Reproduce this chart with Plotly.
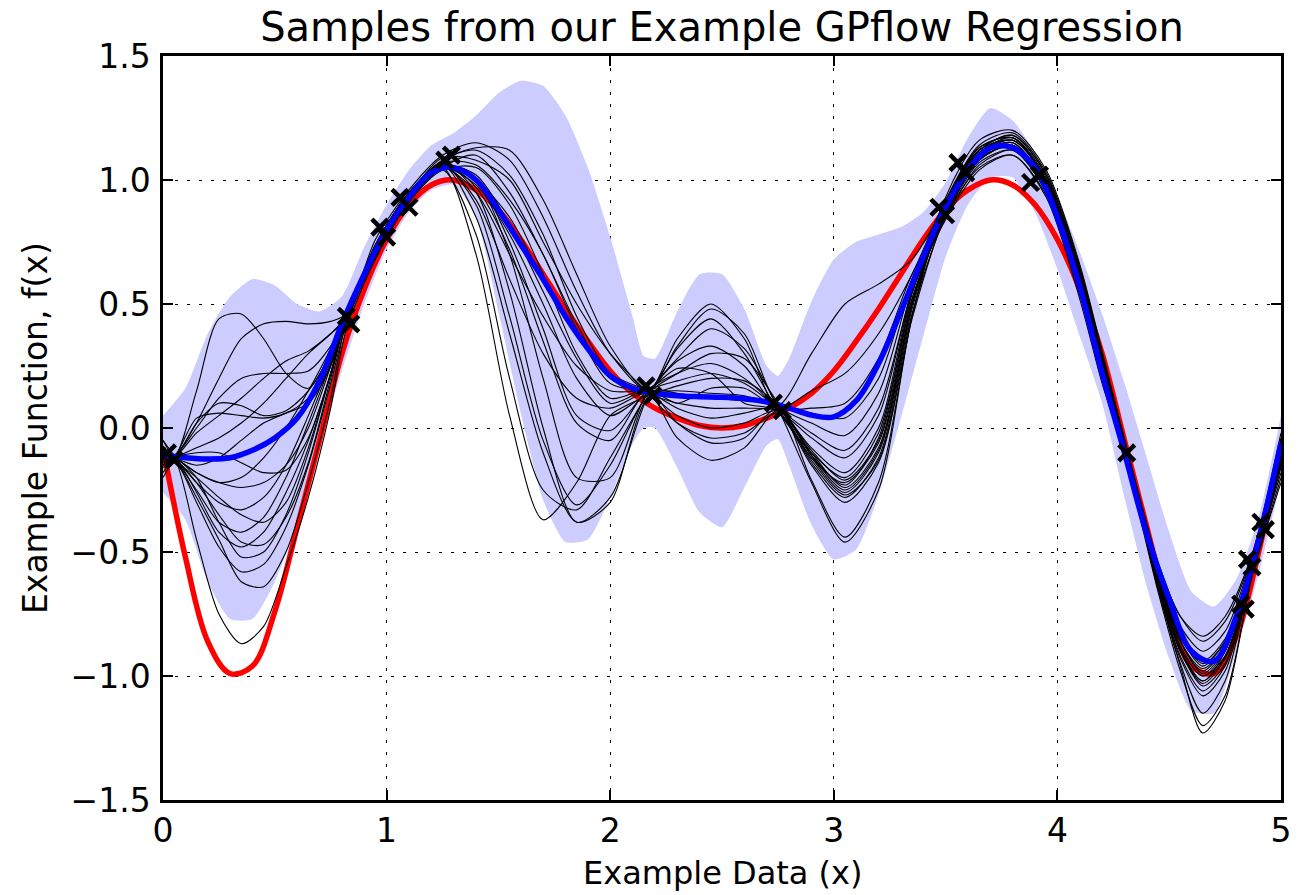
import plotly.graph_objects as go

# ---------------- data ----------------
x_fine = [round(0.1 * i, 1) for i in range(51)]

true_f = [-0.08, -0.52, -0.86, -0.99, -0.96, -0.74, -0.40, -0.05, 0.30, 0.56,
          0.76, 0.90, 0.98, 1.00, 0.96, 0.88, 0.76, 0.62, 0.48, 0.35,
          0.23, 0.14, 0.08, 0.04, 0.01, 0.00, 0.01, 0.04, 0.08, 0.14,
          0.23, 0.35, 0.48, 0.62, 0.76, 0.88, 0.96, 1.00, 0.98, 0.90,
          0.76, 0.56, 0.30, -0.05, -0.40, -0.74, -0.96, -0.99, -0.84, -0.50,
          -0.08]

mean_f = [-0.11, -0.12, -0.125, -0.12, -0.09, -0.04, 0.04, 0.19, 0.42, 0.62,
          0.80, 0.93, 1.03, 1.05, 1.00, 0.88, 0.74, 0.60, 0.45, 0.32,
          0.21, 0.16, 0.14, 0.13, 0.126, 0.124, 0.118, 0.105, 0.08, 0.052,
          0.045, 0.11, 0.26, 0.47, 0.69, 0.89, 1.04, 1.13, 1.13, 1.05,
          0.85, 0.57, 0.22, -0.10, -0.43, -0.69, -0.90, -0.94, -0.76, -0.45,
          -0.06]

band_x = [0.0, 0.1, 0.2, 0.3, 0.4, 0.5, 0.6, 0.7, 0.8, 0.9,
          1.0, 1.1, 1.2, 1.3, 1.4, 1.5, 1.6, 1.7, 1.8, 1.9,
          2.0, 2.1, 2.15, 2.2, 2.3, 2.4, 2.5, 2.6, 2.7, 2.75, 2.8, 2.9,
          3.0, 3.1, 3.2, 3.3, 3.4, 3.5, 3.6, 3.7, 3.8, 3.9,
          4.0, 4.1, 4.2, 4.3, 4.4, 4.5, 4.6, 4.7, 4.8, 4.9, 5.0]
band_upper = [0.05, 0.16, 0.38, 0.53, 0.60, 0.575, 0.50, 0.47, 0.53, 0.73,
              0.90, 1.04, 1.14, 1.19, 1.26, 1.35, 1.40, 1.38, 1.26, 1.05,
              0.77, 0.45, 0.29, 0.28, 0.47, 0.62, 0.62, 0.48, 0.25, 0.21, 0.28, 0.51,
              0.68, 0.75, 0.78, 0.81, 0.87, 0.99, 1.17, 1.29, 1.24, 1.11,
              0.93, 0.71, 0.46, 0.18, -0.12, -0.42, -0.66, -0.72, -0.61, -0.36, 0.05]
band_lower = [-0.26, -0.37, -0.62, -0.77, -0.77, -0.62, -0.38, -0.06, 0.23, 0.50,
              0.72, 0.87, 0.96, 0.98, 0.85, 0.47, 0.06, -0.29, -0.46, -0.45,
              -0.28, -0.065, 0.0, 0.0, -0.16, -0.34, -0.40, -0.24, -0.07, -0.045, -0.15, -0.39,
              -0.53, -0.49, -0.27, 0.04, 0.37, 0.69, 0.90, 1.01, 1.01, 0.87,
              0.64, 0.37, 0.10, -0.28, -0.64, -0.93, -1.14, -1.15, -0.90, -0.59, -0.21]

x_obs = [0.02, 0.05, 0.82, 0.84, 0.97, 1.00, 1.06, 1.10, 1.26, 1.29,
         2.16, 2.19, 2.73, 2.77, 3.47, 3.50, 3.555, 3.59, 3.88, 3.92,
         4.31, 4.82, 4.84, 4.85, 4.87, 4.91, 4.93]
y_obs = [-0.10, -0.13, 0.45, 0.42, 0.81, 0.77, 0.93, 0.89, 1.08, 1.10,
         0.17, 0.13, 0.10, 0.07, 0.89, 0.86, 1.07, 1.03, 0.99, 1.02,
         -0.10, -0.71, -0.73, -0.53, -0.56, -0.38, -0.41]

x_samp = [0.0, 0.05, 0.15, 0.25, 0.35, 0.45, 0.55, 0.65, 0.75, 0.82,
          0.95, 1.1, 1.25, 1.4, 1.55, 1.7, 1.85, 2.0, 2.17, 2.3,
          2.45, 2.6, 2.75, 2.9, 3.05, 3.2, 3.35, 3.5, 3.65, 3.8,
          3.95, 4.1, 4.2, 4.31, 4.45, 4.55, 4.65, 4.75, 4.87, 5.0]

sample_01 = [-0.10, -0.12, 0.15, 0.44, 0.46, 0.36, 0.22, 0.16, 0.30, 0.45, 0.74, 0.95, 1.08, 1.13, 1.12, 0.92, 0.62, 0.33, 0.15, 0.36, 0.50, 0.36, 0.08, 0.15, 0.22, 0.38, 0.62, 0.92, 1.14, 1.19, 1.03, 0.65, 0.30, -0.10, -0.55, -0.76, -0.86, -0.78, -0.52, -0.10]
sample_02 = [-0.15, -0.12, 0.02, 0.20, 0.36, 0.42, 0.43, 0.42, 0.43, 0.46, 0.76, 0.96, 1.10, 1.15, 1.08, 0.85, 0.55, 0.30, 0.15, 0.33, 0.48, 0.38, 0.09, 0.02, -0.03, 0.14, 0.58, 0.88, 1.10, 1.16, 1.00, 0.60, 0.26, -0.12, -0.60, -0.84, -0.95, -0.86, -0.55, -0.05]
sample_03 = [-0.08, -0.11, 0.00, 0.12, 0.20, 0.22, 0.22, 0.23, 0.33, 0.45, 0.73, 0.93, 1.05, 0.70, 0.05, -0.37, -0.22, 0.05, 0.14, 0.32, 0.44, 0.30, 0.07, -0.10, -0.20, -0.02, 0.52, 0.86, 1.08, 1.14, 0.98, 0.58, 0.24, -0.11, -0.62, -0.90, -1.02, -0.90, -0.56, -0.12]
sample_04 = [-0.05, -0.11, 0.04, 0.06, 0.05, 0.04, 0.06, 0.12, 0.28, 0.44, 0.72, 0.92, 1.04, 0.78, 0.20, -0.25, -0.33, -0.12, 0.14, 0.28, 0.40, 0.32, 0.08, -0.22, -0.46, -0.25, 0.45, 0.90, 1.12, 1.18, 1.02, 0.64, 0.30, -0.08, -0.58, -0.86, -0.98, -0.88, -0.55, -0.15]
sample_05 = [-0.12, -0.12, -0.02, 0.05, 0.12, 0.20, 0.27, 0.31, 0.38, 0.44, 0.72, 0.94, 1.07, 0.95, 0.55, 0.00, -0.38, -0.28, 0.13, 0.27, 0.33, 0.25, 0.08, 0.08, 0.10, 0.28, 0.62, 0.85, 1.06, 1.12, 0.96, 0.55, 0.20, -0.14, -0.66, -0.98, -1.20, -1.08, -0.60, -0.20]
sample_06 = [-0.14, -0.12, -0.08, -0.04, 0.02, 0.10, 0.20, 0.30, 0.38, 0.45, 0.73, 0.94, 1.06, 0.90, 0.45, -0.05, -0.31, -0.15, 0.14, 0.22, 0.30, 0.28, 0.10, -0.12, -0.22, -0.06, 0.50, 0.87, 1.10, 1.15, 0.97, 0.57, 0.22, -0.12, -0.64, -0.95, -1.15, -1.02, -0.58, -0.18]
sample_07 = [-0.10, -0.12, -0.18, -0.22, -0.20, -0.12, 0.00, 0.15, 0.32, 0.45, 0.71, 0.93, 1.06, 1.00, 0.70, 0.20, -0.20, -0.20, 0.15, 0.22, 0.26, 0.20, 0.07, -0.12, -0.26, -0.10, 0.50, 0.91, 1.12, 1.16, 1.00, 0.62, 0.28, -0.09, -0.56, -0.80, -0.90, -0.82, -0.52, -0.08]
sample_08 = [-0.18, -0.13, -0.22, -0.30, -0.33, -0.28, -0.15, 0.05, 0.27, 0.44, 0.70, 0.92, 1.05, 1.00, 0.75, 0.40, 0.05, -0.01, 0.15, 0.19, 0.22, 0.18, 0.08, -0.02, -0.09, 0.08, 0.55, 0.84, 1.04, 1.10, 0.93, 0.52, 0.18, -0.13, -0.65, -0.96, -1.23, -1.10, -0.60, -0.22]
sample_09 = [-0.12, -0.13, -0.25, -0.38, -0.42, -0.36, -0.20, 0.02, 0.26, 0.43, 0.70, 0.93, 1.06, 1.00, 0.85, 0.60, 0.38, 0.22, 0.14, 0.17, 0.20, 0.19, 0.09, -0.14, -0.28, -0.12, 0.48, 0.89, 1.11, 1.17, 1.01, 0.62, 0.27, -0.10, -0.60, -0.88, -1.00, -0.92, -0.57, -0.10]
sample_10 = [-0.16, -0.13, -0.30, -0.48, -0.58, -0.55, -0.40, -0.15, 0.18, 0.42, 0.69, 0.92, 1.05, 1.10, 0.95, 0.70, 0.42, 0.20, 0.15, 0.15, 0.14, 0.13, 0.08, -0.08, -0.18, 0.00, 0.55, 0.88, 1.09, 1.13, 0.97, 0.58, 0.23, -0.11, -0.62, -0.90, -1.04, -0.95, -0.56, -0.06]
sample_11 = [-0.10, -0.12, -0.45, -0.75, -0.87, -0.80, -0.56, -0.28, 0.08, 0.40, 0.68, 0.91, 1.04, 1.05, 0.90, 0.62, 0.30, 0.12, 0.16, 0.14, 0.12, 0.11, 0.09, -0.21, -0.44, -0.22, 0.45, 0.93, 1.16, 1.20, 1.04, 0.66, 0.31, -0.08, -0.54, -0.76, -0.84, -0.76, -0.51, -0.02]
sample_12 = [-0.13, -0.13, -0.28, -0.45, -0.62, -0.64, -0.50, -0.22, 0.12, 0.43, 0.70, 0.92, 1.05, 0.95, 0.70, 0.45, 0.25, 0.15, 0.15, 0.13, 0.12, 0.12, 0.10, 0.06, 0.04, 0.20, 0.60, 0.86, 1.07, 1.12, 0.95, 0.56, 0.22, -0.12, -0.63, -0.92, -1.06, -0.96, -0.57, -0.14]
sample_13 = [-0.08, -0.12, -0.22, -0.35, -0.46, -0.47, -0.36, -0.14, 0.20, 0.44, 0.71, 0.93, 1.06, 0.85, 0.38, -0.10, -0.38, -0.30, 0.12, 0.10, 0.08, 0.08, 0.07, -0.04, -0.12, 0.05, 0.56, 0.89, 1.12, 1.18, 1.02, 0.63, 0.29, -0.09, -0.58, -0.84, -0.96, -0.86, -0.54, -0.04]
sample_14 = [-0.20, -0.14, -0.20, -0.28, -0.35, -0.38, -0.30, -0.08, 0.22, 0.45, 0.72, 0.94, 1.08, 1.12, 1.02, 0.78, 0.45, 0.22, 0.15, 0.08, 0.04, 0.06, 0.08, -0.09, -0.21, -0.05, 0.52, 0.87, 1.08, 1.14, 0.98, 0.58, 0.24, -0.11, -0.61, -0.88, -1.00, -0.90, -0.55, -0.12]
sample_15 = [-0.12, -0.12, -0.18, -0.22, -0.24, -0.22, -0.15, 0.00, 0.25, 0.44, 0.72, 0.93, 1.05, 0.98, 0.78, 0.50, 0.20, 0.05, 0.13, 0.05, 0.00, 0.02, 0.07, -0.10, -0.24, -0.08, 0.50, 0.90, 1.13, 1.17, 0.99, 0.60, 0.26, -0.10, -0.60, -0.86, -0.97, -0.88, -0.56, -0.09]
sample_16 = [-0.05, -0.11, -0.20, -0.38, -0.52, -0.50, -0.35, -0.10, 0.22, 0.44, 0.71, 0.94, 1.09, 1.08, 1.00, 0.75, 0.50, 0.30, 0.14, 0.02, -0.04, -0.02, 0.06, -0.13, -0.27, -0.13, 0.46, 0.85, 1.05, 1.10, 0.94, 0.54, 0.20, -0.13, -0.64, -0.93, -1.08, -0.98, -0.58, -0.16]
sample_17 = [-0.15, -0.12, -0.10, -0.10, -0.14, -0.18, -0.17, -0.04, 0.22, 0.45, 0.72, 0.93, 1.06, 1.02, 0.82, 0.55, 0.28, 0.10, 0.15, 0.02, -0.06, -0.04, 0.08, -0.11, -0.25, -0.09, 0.50, 0.91, 1.13, 1.17, 1.00, 0.61, 0.27, -0.10, -0.59, -0.85, -0.94, -0.85, -0.54, -0.07]
sample_18 = [-0.10, -0.12, -0.15, -0.12, -0.05, 0.02, 0.06, 0.10, 0.25, 0.44, 0.73, 0.94, 1.06, 0.92, 0.60, 0.30, 0.12, 0.08, 0.14, -0.04, -0.13, -0.08, 0.07, -0.11, -0.23, -0.04, 0.54, 0.88, 1.10, 1.15, 0.98, 0.59, 0.24, -0.11, -0.61, -0.89, -1.02, -0.92, -0.56, -0.11]
sample_19 = [-0.14, -0.12, -0.26, -0.42, -0.48, -0.42, -0.26, -0.05, 0.22, 0.44, 0.71, 0.93, 1.07, 1.06, 0.92, 0.70, 0.40, 0.18, 0.16, 0.24, 0.22, 0.10, 0.07, -0.15, -0.30, -0.14, 0.44, 0.86, 1.08, 1.14, 0.97, 0.57, 0.23, -0.12, -0.62, -0.90, -1.03, -0.93, -0.57, -0.13]
sample_20 = [-0.11, -0.12, 0.02, 0.10, 0.09, 0.05, 0.07, 0.15, 0.30, 0.45, 0.74, 0.95, 1.07, 0.97, 0.72, 0.35, 0.02, -0.05, 0.15, 0.10, 0.16, 0.16, 0.09, 0.30, 0.50, 0.58, 0.68, 0.90, 1.11, 1.16, 1.00, 0.61, 0.27, -0.10, -0.59, -0.86, -0.99, -0.89, -0.55, -0.09]

samples = [sample_01, sample_02, sample_03, sample_04, sample_05, sample_06, sample_07,
           sample_08, sample_09, sample_10, sample_11, sample_12, sample_13, sample_14,
           sample_15, sample_16, sample_17, sample_18, sample_19, sample_20]

x_ticks = [0, 1, 2, 3, 4, 5]
y_ticks = [-1.5, -1.0, -0.5, 0.0, 0.5, 1.0, 1.5]

# ---------------- figure ----------------
FONT = "DejaVu Sans"
fig = go.Figure()

# confidence band
fig.add_trace(go.Scatter(x=band_x, y=band_lower, mode="lines",
                         line=dict(width=0, shape="spline", smoothing=0.6),
                         hoverinfo="skip", showlegend=False))
fig.add_trace(go.Scatter(x=band_x, y=band_upper, mode="lines",
                         line=dict(width=0, shape="spline", smoothing=0.6),
                         fill="tonexty", fillcolor="rgb(204,204,255)",
                         hoverinfo="skip", showlegend=False))

# true function
fig.add_trace(go.Scatter(x=x_fine, y=true_f, mode="lines",
                         line=dict(color="rgb(255,0,0)", width=5.5, shape="spline"),
                         showlegend=False))

# samples
for s in samples:
    fig.add_trace(go.Scatter(x=x_samp, y=s, mode="lines",
                             line=dict(color="black", width=1.1, shape="spline", smoothing=0.8),
                             showlegend=False))

# posterior mean
fig.add_trace(go.Scatter(x=x_fine, y=mean_f, mode="lines",
                         line=dict(color="rgb(0,0,255)", width=5.5, shape="spline"),
                         showlegend=False))

# observations
fig.add_trace(go.Scatter(x=x_obs, y=y_obs, mode="markers",
                         marker=dict(symbol="x-thin", size=16,
                                     line=dict(color="black", width=4.5)),
                         showlegend=False))

axis_common = dict(
    showline=True, linecolor="black", linewidth=2.5, mirror="ticks",
    ticks="inside", ticklen=10, tickwidth=1.5, tickcolor="black",
    showgrid=True, gridcolor="black", gridwidth=1, griddash="3px,9px",
    zeroline=False,
    tickfont=dict(family=FONT, size=33, color="black"),
)

fig.update_xaxes(range=[0, 5], tickvals=x_ticks,
                 ticktext=[str(v) for v in x_ticks],
                 ticklabelstandoff=0, **axis_common)
fig.update_yaxes(range=[-1.5, 1.5], tickvals=y_ticks, tickformat=".1f",
                 ticklabelstandoff=3, **axis_common)

fig.update_layout(
    width=1306, height=895,
    margin=dict(l=163, r=25, t=56, b=95),
    paper_bgcolor="white", plot_bgcolor="white",
    font=dict(family=FONT, color="black"),
    title=dict(text="Samples from our Example GPflow Regression",
               x=0.5, xanchor="center", xref="paper",
               y=0.97, yanchor="middle", yref="container",
               font=dict(family=FONT, size=40, color="black")),
    annotations=[
        dict(text="Example Data (x)", xref="paper", yref="paper",
             x=0.5, y=0, xanchor="center", yanchor="middle", yshift=-73,
             showarrow=False, font=dict(family=FONT, size=32, color="black")),
        dict(text="Example Function, f(x)", xref="paper", yref="paper",
             x=0, y=0.5, xanchor="center", yanchor="middle", xshift=-128,
             textangle=-90, showarrow=False,
             font=dict(family=FONT, size=33, color="black")),
    ],
)

fig.write_html("out.html")
